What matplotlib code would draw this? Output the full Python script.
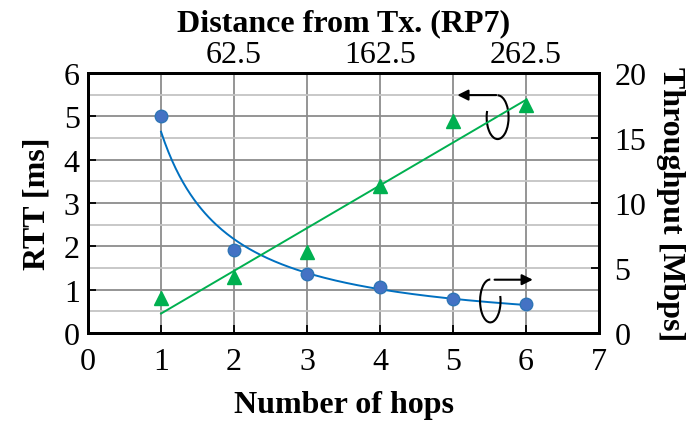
import numpy as np
import matplotlib
matplotlib.use("Agg")
import matplotlib.pyplot as plt
from matplotlib.patches import Arc

### Data
hops = [1, 2, 3, 4, 5, 6]
rtt_ms = [5.0, 1.91, 1.37, 1.05, 0.78, 0.67]
throughput_mbps = [2.7, 4.3, 6.2, 11.3, 16.3, 17.5]
top_ticks = [2, 4, 6]
top_labels = ["62.5", "162.5", "262.5"]

plt.rcParams['font.family'] = ['Liberation Serif', 'DejaVu Serif']
fs = 23

fig = plt.figure(figsize=(6.91, 4.27), dpi=100)
ax = fig.add_axes([0.1274, 0.2178, 0.7396, 0.6089])

### Grid
ax.set_xlim(0, 7)
ax.set_ylim(0, 6)
ax.set_xticks(range(0, 8))
ax.set_yticks(range(0, 7))
ax.set_yticks(np.arange(0.5, 6, 1.0), minor=True)
ax.grid(True, which='major', color='#8c8c8c', lw=1.3)
ax.grid(True, which='minor', axis='y', color='#c4c4c4', lw=1.3)
ax.set_axisbelow(True)
ax.tick_params(which='major', direction='in', length=6, width=1.3, labelsize=fs)
ax.tick_params(axis='x', pad=10)
ax.tick_params(axis='y', pad=6)
ax.tick_params(which='minor', length=0)
for s in ax.spines.values():
    s.set_linewidth(2)

### RTT points and power trendline
b, a = np.polyfit(np.log(hops), np.log(rtt_ms), 1)
xs = np.linspace(1, 6, 200)
ax.plot(xs, np.exp(a) * xs ** b, color='#0070C0', lw=1.4, zorder=3)
ax.plot(hops, rtt_ms, 'o', ms=9, mfc='#4472C4', mec='#2E75B6', mew=1, zorder=4)

ax.set_xlabel('Number of hops', fontsize=fs, fontweight='bold', labelpad=10)
ax.set_ylabel('RTT [ms]', fontsize=fs, fontweight='bold', labelpad=9)

### Throughput on right axis
ax2 = ax.twinx()
ax2.set_ylim(0, 20)
ax2.set_yticks(range(0, 21, 5))
ax2.tick_params(direction='in', length=6, width=1.3, labelsize=fs, pad=11)
m, c = np.polyfit(hops, throughput_mbps, 1)
ax2.plot(xs, m * xs + c, color='#00B050', lw=1.4, zorder=3)
ax2.plot(hops, throughput_mbps, '^', ms=10, color='#00B050', zorder=4)
ax2.set_ylabel('Throughput [Mbps]', fontsize=fs, fontweight='bold', rotation=-90, labelpad=28)

### Top axis: distance
ax3 = ax.twiny()
ax3.set_xlim(0, 7)
ax3.set_xticks(top_ticks)
ax3.set_xticklabels(top_labels)
ax3.tick_params(length=0, labelsize=fs, pad=3)
ax3.set_xlabel('Distance from Tx. (RP7)', fontsize=fs, fontweight='bold', labelpad=7)
for s in list(ax2.spines.values()) + list(ax3.spines.values()):
    s.set_linewidth(2)

### Curved arrows showing which axis each series uses
ax.add_patch(Arc((5.61, 4.98), 0.30, 1.01, theta1=135, theta2=450, color='black', lw=1.5, zorder=5))
ax.annotate('', xy=(5.02, 5.49), xytext=(5.63, 5.49),
            arrowprops=dict(arrowstyle='-|>', color='black', lw=1.5, mutation_scale=16), zorder=5)
ax.add_patch(Arc((5.51, 0.74), 0.28, 0.99, theta1=90, theta2=400, color='black', lw=1.5, zorder=5))
ax.annotate('', xy=(6.13, 1.23), xytext=(5.53, 1.23),
            arrowprops=dict(arrowstyle='-|>', color='black', lw=1.5, mutation_scale=16), zorder=5)

fig.savefig('out.png', dpi=100)
